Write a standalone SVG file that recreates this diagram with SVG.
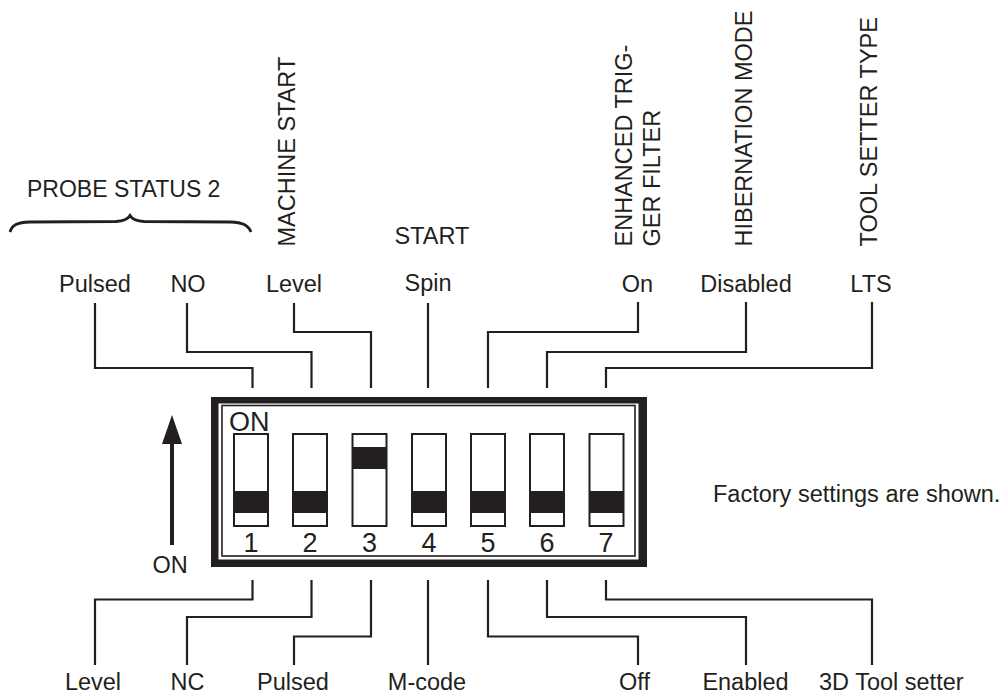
<svg xmlns="http://www.w3.org/2000/svg" width="1006" height="693" viewBox="0 0 1006 693">
<style>
text{font-family:"Liberation Sans",Arial,sans-serif;font-size:23.5px;fill:#231f20}
.m{text-anchor:middle}
.big{font-size:27px}
.ln{fill:none;stroke:#231f20;stroke-width:2.2}
.sw{fill:#fff;stroke:#231f20;stroke-width:2}
.knob{fill:#231f20}
</style>
<rect width="1006" height="693" fill="#fff"/>
<g id="labels-top">
<text x="27" y="197" style="font-size:23px">PROBE STATUS 2</text>
<path id="brace" d="M10,232 C12,225 17,222.5 30,222 L116,221.5 C124,221 128,219 130,215.5 C132,219 136,221 144,221.5 L230,222 C243,222.5 248,225 251,232" fill="none" stroke="#231f20" stroke-width="2.8"/>
<text class="m" x="95" y="292">Pulsed</text>
<text class="m" x="188" y="292">NO</text>
<text class="m" x="294" y="292">Level</text>
<text class="m" x="428" y="291">Spin</text>
<text class="m" x="432" y="244">START</text>
<text class="m" x="637.5" y="292">On</text>
<text class="m" x="746" y="292">Disabled</text>
<text class="m" x="871" y="292">LTS</text>
<text transform="translate(295,246.5) rotate(-90)">MACHINE START</text>
<text transform="translate(632,246.5) rotate(-90)">ENHANCED TRIG-</text>
<text transform="translate(660,246.5) rotate(-90)">GER FILTER</text>
<text transform="translate(752,246.5) rotate(-90)">HIBERNATION MODE</text>
<text transform="translate(877,246.5) rotate(-90)">TOOL SETTER TYPE</text>
</g>
<g id="labels-bottom">
<text class="m" x="93" y="690">Level</text>
<text class="m" x="187.5" y="690">NC</text>
<text class="m" x="293" y="690">Pulsed</text>
<text class="m" x="427" y="690">M-code</text>
<text class="m" x="634.5" y="690">Off</text>
<text class="m" x="745.5" y="690">Enabled</text>
<text x="819" y="690">3D Tool setter</text>
</g>
<g id="note">
<text x="713" y="502">Factory settings are shown.</text>
</g>
<g id="on-arrow">
<rect x="170" y="440" width="4" height="105" fill="#231f20"/>
<polygon points="172,415 162,444 182,444" fill="#231f20"/>
<text class="m" x="170" y="573">ON</text>
</g>
<g id="dip-switch">
<rect x="211" y="397" width="436" height="170" fill="#231f20"/>
<rect x="218.5" y="403.5" width="420" height="156" fill="#fff"/>
<rect x="222" y="405.5" width="413" height="150.5" fill="none" stroke="#231f20" stroke-width="1.6"/>
<text class="big" x="229" y="431">ON</text>
<g id="sw1"><rect class="sw" x="234" y="434" width="34" height="92"/><rect class="knob" x="234" y="491" width="34" height="22"/><text class="big m" x="251" y="552">1</text></g>
<g id="sw2"><rect class="sw" x="293" y="434" width="34" height="92"/><rect class="knob" x="293" y="491" width="34" height="22"/><text class="big m" x="310" y="552">2</text></g>
<g id="sw3"><rect class="sw" x="352.5" y="434" width="34" height="92"/><rect class="knob" x="352.5" y="447" width="34" height="22"/><text class="big m" x="369.5" y="552">3</text></g>
<g id="sw4"><rect class="sw" x="412" y="434" width="34" height="92"/><rect class="knob" x="412" y="491" width="34" height="22"/><text class="big m" x="429" y="552">4</text></g>
<g id="sw5"><rect class="sw" x="471" y="434" width="34" height="92"/><rect class="knob" x="471" y="491" width="34" height="22"/><text class="big m" x="488" y="552">5</text></g>
<g id="sw6"><rect class="sw" x="530" y="434" width="34" height="92"/><rect class="knob" x="530" y="491" width="34" height="22"/><text class="big m" x="547" y="552">6</text></g>
<g id="sw7"><rect class="sw" x="589.5" y="434" width="34" height="92"/><rect class="knob" x="589.5" y="491" width="34" height="22"/><text class="big m" x="606" y="552">7</text></g>
</g>
<g id="connectors">
<path class="ln" d="M252.5,388 V368 H95 V303"/>
<path class="ln" d="M311.5,388 V352 H187 V303"/>
<path class="ln" d="M371,388 V332 H294 V303"/>
<path class="ln" d="M428,388 V303"/>
<path class="ln" d="M488,388 V332 H638 V302"/>
<path class="ln" d="M547,388 V352 H746 V302"/>
<path class="ln" d="M606,388 V368 H872 V302"/>
<path class="ln" d="M252.5,580 V599.5 H95 V665"/>
<path class="ln" d="M311.5,580 V617 H187 V665"/>
<path class="ln" d="M371,580 V636.5 H294 V665"/>
<path class="ln" d="M428,580 V665"/>
<path class="ln" d="M488,580 V636.5 H638 V665"/>
<path class="ln" d="M547,580 V617 H746 V665"/>
<path class="ln" d="M606,580 V599.5 H872 V665"/>
</g>
</svg>
